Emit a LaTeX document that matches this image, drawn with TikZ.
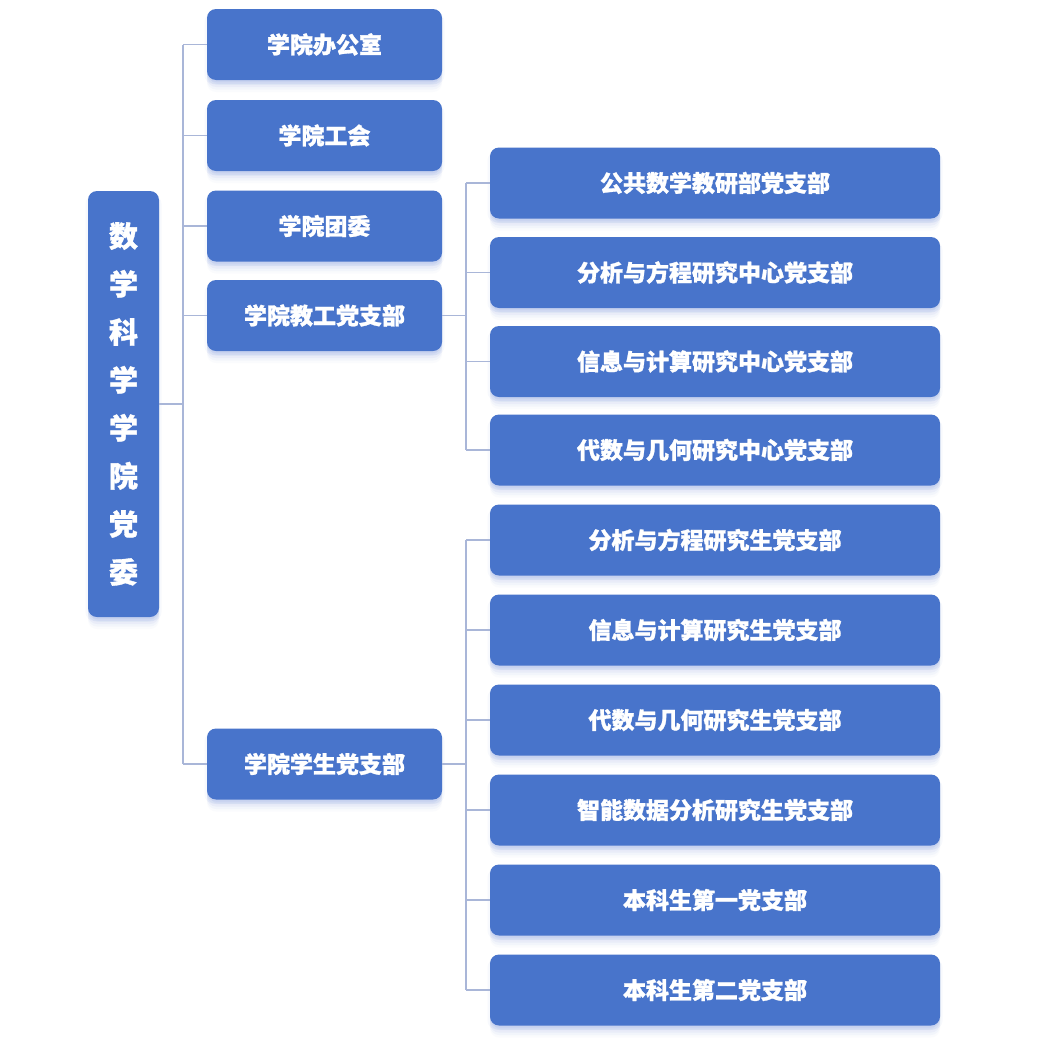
\documentclass[tikz,border=0pt]{standalone}
\usepackage{fontspec}
\newfontfamily\cjk{Noto Sans CJK SC}[BoldFeatures={FakeBold=1.2}]
\definecolor{boxblue}{HTML}{4874CB}
\definecolor{linecol}{HTML}{A9B6D8}
\definecolor{shadowcol}{HTML}{6E8BDA}
\tikzset{
  x=1pt,y=-1pt,
  shadowlayer/.style n args={3}{preaction={fill=shadowcol, opacity=#3, transform canvas={xshift=#1, yshift=#2}}},
  box/.style={rectangle, rounded corners=9pt, fill=boxblue, text=white,
    font=\cjk\bfseries\fontsize{23}{27}\selectfont, inner sep=0pt,
    minimum height=71pt,
    shadowlayer={-2.5pt}{-4pt}{0.05}, shadowlayer={2.5pt}{-4pt}{0.05},
    shadowlayer={0pt}{-2pt}{0.10}, shadowlayer={0pt}{-4.5pt}{0.09},
    shadowlayer={0pt}{-7pt}{0.07}, shadowlayer={0pt}{-9.5pt}{0.05},
    shadowlayer={0pt}{-12pt}{0.03}},
  lone/.style={box, minimum width=235pt},
  ltwo/.style={box, minimum width=450pt},
  conn/.style={draw=linecol, line width=1.4pt},
}
\begin{document}
\begin{tikzpicture}
\useasboundingbox (0,0) rectangle (1060,1055);
\fill[white] (0,0) rectangle (1060,1055);
\node[box, minimum width=71pt, minimum height=426pt, align=center,
  font=\cjk\bfseries\fontsize{29}{48}\selectfont] (root) at (123.5,404)
  {数\\学\\科\\学\\学\\院\\党\\委};
\node[lone] (office) at (324.5,44.5) {学院办公室};
\node[lone] (union) at (324.5,135.5) {学院工会};
\node[lone] (youth) at (324.5,226) {学院团委};
\node[lone] (staff) at (324.5,315.5) {学院教工党支部};
\node[lone] (student) at (324.5,764) {学院学生党支部};
\node[ltwo] (s1) at (715,183) {公共数学教研部党支部};
\node[ltwo] (s2) at (715,272.5) {分析与方程研究中心党支部};
\node[ltwo] (s3) at (715,361.5) {信息与计算研究中心党支部};
\node[ltwo] (s4) at (715,450) {代数与几何研究中心党支部};
\node[ltwo] (g1) at (715,540) {分析与方程研究生党支部};
\node[ltwo] (g2) at (715,630) {信息与计算研究生党支部};
\node[ltwo] (g3) at (715,720) {代数与几何研究生党支部};
\node[ltwo] (g4) at (715,810) {智能数据分析研究生党支部};
\node[ltwo] (g5) at (715,900) {本科生第一党支部};
\node[ltwo] (g6) at (715,990) {本科生第二党支部};
\coordinate (tA) at (183,0);
\coordinate (tB) at (466,0);
% root trunk
\draw[conn] (root.east) -- (root.east -| tA);
\draw[conn] (office.west -| tA) -- (student.west -| tA);
\foreach \n in {office,union,youth,staff,student}
  \draw[conn] (\n.west -| tA) -- (\n.west);
% staff branch
\draw[conn] (staff.east) -- (staff.east -| tB);
\draw[conn] (s1.west -| tB) -- (s4.west -| tB);
\foreach \n in {s1,s2,s3,s4}
  \draw[conn] (\n.west -| tB) -- (\n.west);
% student branch
\draw[conn] (student.east) -- (student.east -| tB);
\draw[conn] (g1.west -| tB) -- (g6.west -| tB);
\foreach \n in {g1,g2,g3,g4,g5,g6}
  \draw[conn] (\n.west -| tB) -- (\n.west);
\end{tikzpicture}
\end{document}
